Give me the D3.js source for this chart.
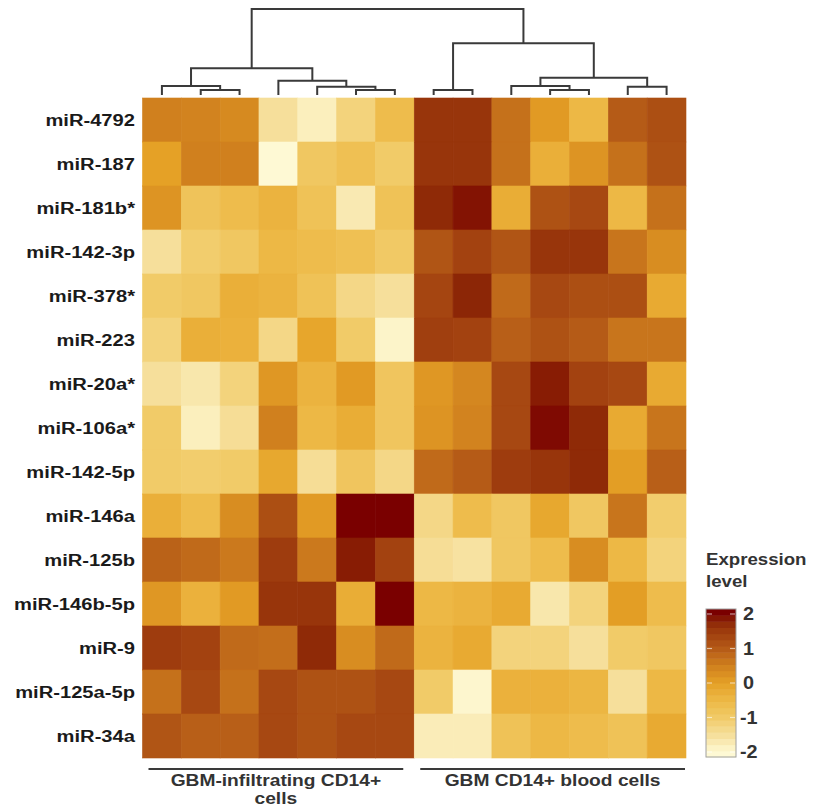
<!DOCTYPE html>
<html lang="en">
<head>
<meta charset="UTF-8">
<title>miRNA heatmap</title>
<script src="https://d3js.org/d3.v7.min.js"></script>
<style>
    body{
        margin:0;
        padding:0;
        background:#fff;
    }
    #misvg{
        display:block;
    }
    text{
        font-family:"Liberation Sans", Arial, sans-serif;
        font-weight:bold;
    }
</style>
</head>
<body>

<svg id="misvg"></svg>

<script>
    // rows (top to bottom)
    let rowLabels = ["miR-4792","miR-187","miR-181b*","miR-142-3p","miR-378*","miR-223",
        "miR-20a*","miR-106a*","miR-142-5p","miR-146a","miR-125b","miR-146b-5p",
        "miR-9","miR-125a-5p","miR-34a"]

    // expression level, one row per miRNA, 14 samples (7 infiltrating, 7 blood)
    let values = [
        [ 0.5, 0.45, 0.35,-1.5,-1.8,-1.2,-0.6,  1.6, 1.6, 0.7, 0.1,-0.5, 1.0, 1.2],
        [ 0.0, 0.5, 0.5,-2.1,-0.9,-0.7,-1.0,  1.6, 1.6, 0.7,-0.3, 0.2, 0.7, 1.15],
        [ 0.2,-0.8,-0.6,-0.4,-0.75,-1.7,-0.75, 1.75, 1.9,-0.25, 1.15, 1.3,-0.5, 0.7],
        [-1.5,-1.05,-0.9,-0.5,-0.6,-0.7,-0.95, 1.1, 1.4, 1.1, 1.6, 1.6, 0.65, 0.3],
        [-1.0,-0.9,-0.3,-0.4,-0.75,-1.3,-1.5,  1.35, 1.8, 0.8, 1.3, 1.2, 1.2,-0.2],
        [-1.2,-0.3,-0.35,-1.3,-0.1,-1.0,-1.9,  1.45, 1.4, 0.95, 1.15, 1.0, 0.65, 0.65],
        [-1.5,-1.65,-1.2, 0.15,-0.4, 0.1,-0.85, 0.15, 0.4, 1.3, 1.85, 1.4, 1.3,-0.2],
        [-1.0,-1.8,-1.45, 0.5,-0.5,-0.25,-0.85, 0.2, 0.45, 1.3, 1.95, 1.75,-0.2, 0.65],
        [-1.0,-1.05,-1.0,-0.15,-1.45,-0.85,-1.3, 0.8, 1.0, 1.5, 1.6, 1.75, 0.05, 0.95],
        [-0.3,-0.6, 0.3, 1.2, 0.1, 2.0, 2.0, -1.3,-0.6,-0.9,-0.15,-0.9, 0.65,-1.05],
        [ 0.9, 0.8, 0.6, 1.5, 0.6, 1.85, 1.4, -1.45,-1.55,-0.9,-0.6, 0.3,-0.5,-1.2],
        [ 0.15,-0.35, 0.1, 1.6, 1.6,-0.25, 2.1, -0.5,-0.4,-0.2,-1.65,-1.2, 0.05,-0.6],
        [ 1.5, 1.4, 0.8, 0.75, 1.75, 0.3, 0.8, -0.4,-0.2,-1.2,-1.2,-1.5,-1.0,-0.9],
        [ 0.7, 1.3, 0.7, 1.3, 1.15, 1.15, 1.3, -1.0,-1.95,-0.35,-0.35,-0.45,-1.5,-0.5],
        [ 1.1, 0.95, 0.95, 1.3, 1.15, 1.3, 1.3, -1.75,-1.75,-0.75,-0.5,-0.6,-0.75,-0.2]
    ]

    let sampleIds = d3.range(14)

    // column dendrogram, linkage style: [child a, child b, height]; new nodes get ids 14, 15, ...
    let colMerges = [
        [1, 2, 5],
        [0, 14, 9],
        [5, 6, 5],
        [4, 16, 8.3],
        [3, 17, 14.3],
        [15, 18, 26.7],
        [7, 8, 5],
        [10, 11, 5],
        [9, 21, 9],
        [12, 13, 8.3],
        [22, 23, 17.3],
        [20, 24, 51.7],
        [19, 25, 86]
    ]

    let groupLabels = [["GBM-infiltrating CD14+", "cells"], ["GBM CD14+ blood cells"]]
    let groupCols = [[0, 6], [7, 13]]

    let legendTicks = [2, 1, 0, -1, -2]
    let colorStops = [-2, -1.5, -1, -0.5, 0, 0.5, 1, 1.5, 1.8, 2]
    let colorRange = ["#fef9d4", "#f6df9b", "#f1cb68", "#edb845", "#e5a126",
        "#d0801e", "#b55b17", "#9e3c0e", "#8c2606", "#7a0000"]

    let svgw = 814
    let svgh = 812
    let grid = {izq:142.5, der:686, sup:98, inf:758}

    let svg = d3.select("#misvg")
        .attr("width", svgw)
        .attr("height", svgh)

    let escalaX = d3.scaleBand()
        .domain(sampleIds)
        .range([grid.izq, grid.der])

    let escalaY = d3.scaleBand()
        .domain(rowLabels)
        .range([grid.sup, grid.inf])

    let color = d3.scaleLinear()
        .domain(colorStops)
        .range(colorRange)
        .clamp(true)

    // cells
    let cells = []
    values.forEach((fila, i) => {
        fila.forEach((v, j) => cells.push({row: rowLabels[i], col: j, v: v}))
    })

    svg.append("g")
        .selectAll("rect")
        .data(cells)
        .enter().append("rect")
        .attr("x", d => escalaX(d.col))
        .attr("y", d => escalaY(d.row))
        .attr("width", escalaX.bandwidth())
        .attr("height", escalaY.bandwidth())
        .attr("fill", d => color(d.v))
        .attr("stroke", d => color(d.v))
        .attr("stroke-width", 0.6)

    // row labels
    let sx = 1.2
    svg.append("g")
        .selectAll("text")
        .data(rowLabels)
        .enter().append("text")
        .attr("transform", d => `translate(135,${escalaY(d) + escalaY.bandwidth()/2}) scale(${sx},1)`)
        .attr("text-anchor", "end")
        .attr("dy", "0.35em")
        .attr("font-size", 16.8)
        .attr("fill", "#1a1a1a")
        .text(d => d)

    // dendrogram
    let alturaY = d3.scaleLinear()
        .domain([0, 86])
        .range([95, 9])

    let nodos = sampleIds.map(j => ({x: escalaX(j) + escalaX.bandwidth()/2, h: 0}))
    let ramas = []
    colMerges.forEach(m => {
        let a = nodos[m[0]], b = nodos[m[1]]
        ramas.push({a: a, b: b, h: m[2]})
        nodos.push({x: (a.x + b.x)/2, h: m[2]})
    })

    svg.append("g")
        .selectAll("path")
        .data(ramas)
        .enter().append("path")
        .attr("d", d => `M${d.a.x},${alturaY(d.a.h)}V${alturaY(d.h)}H${d.b.x}V${alturaY(d.b.h)}`)
        .attr("fill", "none")
        .attr("stroke", "#3a3a3a")
        .attr("stroke-width", 2)

    // group bars and labels
    let grupos = svg.append("g")
    groupCols.forEach((gc, i) => {
        let x0 = escalaX(gc[0]) + 6
        let x1 = escalaX(gc[1]) + escalaX.bandwidth() - (i == 0 ? 11 : 1)
        grupos.append("line")
            .attr("x1", x0).attr("x2", x1)
            .attr("y1", 769).attr("y2", 769)
            .attr("stroke", "#3a3a3a")
            .attr("stroke-width", 2.2)
        groupLabels[i].forEach((t, k) => {
            grupos.append("text")
                .attr("transform", `translate(${(x0 + x1)/2},${786 + k*18}) scale(1.2,1)`)
                .attr("text-anchor", "middle")
                .attr("font-size", 16)
                .attr("fill", "#333")
                .text(t)
        })
    })

    // legend
    let leg = {x: 706, w: 30}
    let escalaLeg = d3.scaleLinear()
        .domain([-2, 2])
        .range([752, 614])

    let legend = svg.append("g")

    legend.append("text")
        .attr("transform", `translate(${leg.x},565) scale(1.13,1)`)
        .attr("font-size", 16.5)
        .attr("fill", "#333")
        .text("Expression")
    legend.append("text")
        .attr("transform", `translate(${leg.x},587) scale(1.13,1)`)
        .attr("font-size", 16.5)
        .attr("fill", "#333")
        .text("level")

    let nbins = 24
    let vmin = escalaLeg.invert(757), vmax = escalaLeg.invert(609)
    let bins = d3.range(nbins).map(i => vmin + (vmax - vmin) * i / nbins)
    let paso = (vmax - vmin) / nbins

    legend.selectAll("rect.bin")
        .data(bins)
        .enter().append("rect")
        .attr("class", "bin")
        .attr("x", leg.x)
        .attr("y", d => escalaLeg(d + paso))
        .attr("width", leg.w)
        .attr("height", d => escalaLeg(d) - escalaLeg(d + paso) + 0.5)
        .attr("fill", d => color(d + paso/2))

    legend.append("rect")
        .attr("x", leg.x)
        .attr("y", escalaLeg(vmax))
        .attr("width", leg.w)
        .attr("height", escalaLeg(vmin) - escalaLeg(vmax))
        .attr("fill", "none")
        .attr("stroke", "#a0a0a0")
        .attr("stroke-width", 1)

    legend.selectAll("g.tick")
        .data(legendTicks)
        .enter().append("g")
        .attr("class", "tick")
        .each(function(d) {
            let g = d3.select(this)
            let y = escalaLeg(d)
            g.append("line").attr("x1", leg.x + 1).attr("x2", leg.x + 6)
                .attr("y1", y).attr("y2", y)
                .attr("stroke", "#fff").attr("stroke-opacity", 0.6).attr("stroke-width", 1.2)
            g.append("line").attr("x1", leg.x + leg.w - 6).attr("x2", leg.x + leg.w - 1)
                .attr("y1", y).attr("y2", y)
                .attr("stroke", "#fff").attr("stroke-opacity", 0.6).attr("stroke-width", 1.2)
            g.append("text")
                .attr("transform", `translate(${d < 0 ? 740 : 743},${y}) scale(1.1,1)`)
                .attr("dy", "0.35em")
                .attr("font-size", 18)
                .attr("fill", "#333")
                .text(d)
        })
</script>

</body>
</html>
